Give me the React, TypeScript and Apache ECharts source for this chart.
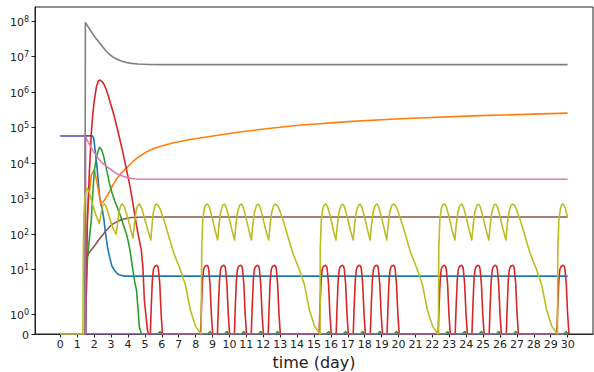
import React, { useEffect, useRef } from "react";
import * as echarts from "echarts";

// ---------- data (day, value) ----------
const X_TICKS = Array.from({ length: 31 }, (_, i) => i);
const Y_TICK_VALUES = [0, 1, 10, 100, 1e3, 1e4, 1e5, 1e6, 1e7, 1e8];
const Y_TICK_LABELS = ["0", "10^0", "10^1", "10^2", "10^3", "10^4", "10^5", "10^6", "10^7", "10^8"];

const blueData: [number, number][] = [
  [0, 5.9e4], [1.9, 5.9e4], [1.97, 5.0e4], [2.05, 2.5e4], [2.13, 1.2e4], [2.22, 4000], [2.31, 1300],
  [2.4, 700], [2.49, 480], [2.58, 250], [2.66, 115], [2.8, 40], [2.9, 24], [3.05, 12.6], [3.2, 9.7],
  [3.35, 7.9], [3.49, 7.1], [3.8, 6.6], [4.08, 6.6], [30, 6.6],
];
const orangeData: [number, number][] = [
  [0, 0], [1.47, 0], [1.52, 60], [1.66, 910], [1.83, 4700], [2.01, 6500], [2.19, 2500], [2.4, 710],
  [2.6, 890], [2.85, 1410], [3.1, 2400], [3.3, 3470], [3.5, 4680], [3.75, 6170], [3.96, 7760],
  [4.3, 1.12e4], [4.67, 1.55e4], [5.1, 2.09e4], [5.56, 2.63e4], [6.1, 3.16e4], [6.63, 3.72e4],
  [7.6, 4.57e4], [8.64, 5.5e4], [9.6, 6.46e4], [10.6, 7.59e4], [12.3, 9.55e4], [14.1, 1.17e5],
  [17, 1.48e5], [20.1, 1.78e5], [24.8, 2.19e5], [30, 2.57e5],
];
const greenData: [number, number][] = [
  [0, 0], [1.45, 0], [1.6, 19], [1.72, 80], [1.83, 250], [1.92, 1500], [2.01, 6300], [2.15, 1.6e4],
  [2.31, 2.8e4], [2.42, 2.5e4], [2.54, 1.7e4], [2.7, 7900], [2.9, 2750], [3.05, 1500], [3.2, 910],
  [3.49, 400], [3.75, 170], [3.96, 83], [4.12, 35], [4.26, 12], [4.4, 4.5], [4.5, 2.7], [4.6, 1.2],
  [4.67, 0.35], [4.78, 0.05], [4.85, 0],
  [5.75, 0], [5.9, 0.12], [6.05, 0], [30, 0],
];
const greenBumpPeaks = [8.85, 9.85, 10.85, 11.85, 12.85, 15.86, 16.87, 17.88, 18.89, 19.88, 22.9, 23.91, 24.9, 25.92, 26.93, 29.92];
const greenBumpShape: [number, number][] = [[-0.15, 0], [0, 0.12], [0.15, 0]];

const redBigData: [number, number][] = [
  [0, 0], [1.5, 0], [1.54, 5], [1.6, 250], [1.72, 6300], [1.83, 7e4], [1.92, 2.5e5], [2.01, 6e5],
  [2.13, 1.4e6], [2.25, 2.1e6], [2.35, 2.2e6], [2.49, 1.95e6], [2.6, 1.6e6], [2.72, 1.15e6],
  [2.84, 7.8e5], [2.96, 4.9e5], [3.08, 3.2e5], [3.2, 2e5], [3.43, 7.1e4], [3.67, 2.3e4],
  [3.96, 5200], [4.12, 2200], [4.26, 910], [4.5, 180], [4.65, 75], [4.79, 35], [4.88, 12],
  [4.97, 1.7], [5.15, 0.2], [5.22, 0],
];
const redPulsePeaks = [5.68, 8.65, 9.65, 10.65, 11.65, 12.65, 15.66, 16.67, 17.68, 18.69, 19.68, 22.7, 23.71, 24.7, 25.72, 26.73, 29.72];
const redPulseShape: [number, number][] = [
  [-0.36, 0], [-0.3, 1.5], [-0.24, 5], [-0.18, 10], [-0.12, 12], [-0.04, 13], [0.02, 13.3], [0.08, 12.5],
  [0.12, 10.5], [0.2, 4], [0.28, 1], [0.36, 0],
];
const purpleData: [number, number][] = [[0, 5.9e4], [1.48, 5.9e4], [1.5, 0], [30, 0]];
const brownData: [number, number][] = [
  [0, 0], [1.47, 0], [1.48, 20], [1.65, 27], [1.8, 35], [2.0, 46], [2.13, 56], [2.3, 72], [2.5, 95],
  [2.7, 125], [2.9, 160], [3.1, 192], [3.3, 220], [3.5, 245], [3.7, 265], [3.95, 283], [4.2, 295],
  [4.6, 302], [5, 305], [30, 305],
];
const pinkData: [number, number][] = [
  [0, 0], [1.46, 0], [1.48, 5.9e4], [1.6, 4.3e4], [1.7, 3.5e4], [1.85, 2.6e4], [2.0, 2e4], [2.15, 1.58e4],
  [2.3, 1.26e4], [2.45, 1.05e4], [2.6, 9100], [2.75, 8000], [2.9, 7100], [3.1, 6100], [3.3, 5200],
  [3.5, 4700], [3.7, 4300], [3.95, 3950], [4.2, 3700], [4.45, 3600], [4.7, 3550], [30, 3550],
];
const grayData: [number, number][] = [
  [0, 0], [1.45, 0], [1.48, 9.1e7], [1.6, 7.5e7], [1.75, 5.8e7], [1.9, 4.5e7], [2.1, 3.3e7],
  [2.3, 2.5e7], [2.5, 1.9e7], [2.7, 1.45e7], [2.9, 1.17e7], [3.1, 9.9e6], [3.35, 8.5e6], [3.6, 7.6e6],
  [3.9, 6.9e6], [4.2, 6.5e6], [4.6, 6.2e6], [5.2, 6.05e6], [6, 6.0e6], [30, 6.0e6],
];
const oliveData: [number, number][] = [
  [0, 0], [1.33, 0], [1.36, 40], [1.4, 400], [1.47, 1300], [1.58, 2000], [1.7, 1600], [1.9, 700], [2.1, 350],
  [2.3, 200], [2.38, 320], [2.48, 600], [2.6, 720], [2.72, 580], [2.9, 300], [3.1, 150], [3.3, 100],
  [3.38, 200], [3.48, 450], [3.58, 660], [3.68, 720], [3.8, 560], [4.0, 280], [4.15, 140], [4.3, 78],
  [4.37, 180], [4.47, 420], [4.57, 650], [4.68, 710], [4.8, 560], [5.0, 260], [5.2, 120], [5.35, 69],
  [5.42, 180], [5.5, 420], [5.6, 650], [5.68, 710],
  [5.8, 640], [5.92, 480], [6.15, 230], [6.39, 95], [6.7, 30], [7.1, 9.8], [7.4, 3.7], [7.69, 1.2],
  [7.99, 0.4], [8.28, 0.04], [8.33, 0],
  [8.36, 40], [8.42, 250], [8.52, 550], [8.62, 690], [8.7, 710], [8.8, 600], [8.95, 330], [9.15, 130],
  [9.3, 69], [9.38, 180], [9.48, 420], [9.6, 650], [9.7, 710], [9.8, 600], [9.95, 330], [10.15, 130],
  [10.3, 69], [10.38, 180], [10.48, 420], [10.6, 650], [10.7, 710], [10.8, 600], [10.95, 330], [11.15, 130],
  [11.3, 69], [11.38, 180], [11.48, 420], [11.6, 650], [11.7, 710], [11.8, 600], [11.95, 330], [12.15, 130],
  [12.32, 69], [12.4, 180], [12.5, 420], [12.62, 650], [12.72, 710],
  [12.84, 640], [12.96, 480], [13.19, 230], [13.43, 95], [13.74, 30], [14.14, 9.8], [14.44, 3.7],
  [14.73, 1.2], [15.03, 0.4], [15.32, 0.04], [15.36, 0],
  [15.37, 40], [15.43, 250], [15.53, 550], [15.63, 690], [15.7, 710], [15.8, 600], [15.95, 330], [16.15, 130],
  [16.3, 69], [16.38, 180], [16.48, 420], [16.6, 650], [16.7, 710], [16.8, 600], [16.95, 330], [17.15, 130],
  [17.32, 69], [17.4, 180], [17.5, 420], [17.62, 650], [17.72, 710], [17.82, 600], [17.97, 330], [18.17, 130],
  [18.32, 69], [18.4, 180], [18.5, 420], [18.62, 650], [18.72, 710], [18.82, 600], [18.97, 330], [19.17, 130],
  [19.3, 69], [19.38, 180], [19.48, 420], [19.6, 650], [19.7, 710],
  [19.82, 640], [19.94, 480], [20.17, 230], [20.41, 95], [20.72, 30], [21.12, 9.8], [21.42, 3.7],
  [21.71, 1.2], [22.01, 0.4], [22.3, 0.04], [22.36, 0],
  [22.38, 40], [22.44, 250], [22.54, 550], [22.64, 690], [22.72, 710], [22.82, 600], [22.97, 330], [23.17, 130],
  [23.33, 69], [23.41, 180], [23.51, 420], [23.63, 650], [23.73, 710], [23.83, 600], [23.98, 330], [24.18, 130],
  [24.33, 69], [24.41, 180], [24.51, 420], [24.63, 650], [24.73, 710], [24.83, 600], [24.98, 330], [25.18, 130],
  [25.34, 69], [25.42, 180], [25.52, 420], [25.64, 650], [25.74, 710], [25.84, 600], [25.99, 330], [26.19, 130],
  [26.35, 69], [26.43, 180], [26.53, 420], [26.65, 650], [26.75, 710],
  [26.87, 640], [26.99, 480], [27.22, 230], [27.46, 95], [27.77, 30], [28.17, 9.8], [28.47, 3.7],
  [28.76, 1.2], [29.06, 0.4], [29.35, 0.04], [29.4, 0],
  [29.42, 40], [29.48, 250], [29.58, 550], [29.66, 690], [29.73, 710], [29.83, 600], [30, 300],
];

// ---------- symlog scale (matplotlib: linthresh=2, linscale=1, base 10) ----------
const LINTHRESH = 2;
const LINSCALE_ADJ = 1 / (1 - 1 / 10);
function symlog(v: number): number {
  const a = Math.abs(v);
  if (a <= LINTHRESH) return v * LINSCALE_ADJ;
  return Math.sign(v) * LINTHRESH * (LINSCALE_ADJ + Math.log10(a / LINTHRESH));
}
const Y_MAX = 18.42;

function withPulses(base: [number, number][], peaks: number[], shape: [number, number][]): [number, number][] {
  const pts: [number, number][] = base.slice();
  peaks.forEach((p) => shape.forEach(([dx, v]) => pts.push([p + dx, v])));
  pts.sort((a, b) => a[0] - b[0]);
  return pts;
}

const COLORS = {
  blue: "#1f77b4", orange: "#ff7f0e", green: "#2ca02c", red: "#d62728", purple: "#9467bd",
  brown: "#8c564b", pink: "#e377c2", gray: "#7f7f7f", olive: "#bcbd22",
};

export default function App() {
  const ref = useRef<HTMLDivElement>(null);
  useEffect(() => {
    if (!ref.current) return;
    const chart = echarts.init(ref.current, null, { renderer: "svg" });
    const yTickT = Y_TICK_VALUES.map(symlog);
    const mk = (name: string, color: string, data: [number, number][]) => ({
      name,
      type: "line",
      showSymbol: false,
      symbol: "none",
      silent: true,
      lineStyle: { width: 1.6, color, join: "round" },
      itemStyle: { color },
      data: data.map(([x, v]) => [x, symlog(v)]),
    });
    const font = "DejaVu Sans";
    chart.setOption({
      animation: false,
      grid: {
        left: 35, right: 1, top: 7, bottom: 38, containLabel: false, outerBoundsMode: "none",
        show: true, borderColor: "#222", borderWidth: 1, backgroundColor: "transparent",
      },
      xAxis: {
        type: "value", min: -1.5, max: 31.5,
        splitLine: { show: false },
        axisLine: { lineStyle: { color: "#222", width: 1 } },
        axisTick: { customValues: X_TICKS, length: 3.5, lineStyle: { color: "#222" } },
        axisLabel: { customValues: X_TICKS, fontSize: 11, color: "#222", margin: 5, fontFamily: font },
        name: "time (day)", nameLocation: "middle", nameGap: 19,
        nameTextStyle: { fontSize: 16, color: "#222", fontFamily: font },
      },
      yAxis: {
        type: "value", min: 0, max: Y_MAX,
        splitLine: { show: false },
        axisLine: { onZero: false, lineStyle: { color: "#222", width: 1 } },
        axisTick: { customValues: yTickT, length: 3.5, lineStyle: { color: "#222" } },
        axisLabel: {
          customValues: yTickT, margin: 6,
          formatter: (val: number) => {
            const i = yTickT.findIndex((t) => Math.abs(t - val) < 1e-6);
            if (i < 0) return "";
            const lab = Y_TICK_LABELS[i];
            if (lab.indexOf("^") < 0) return `{b|${lab}}`;
            const [base, exp] = lab.split("^");
            return `{b|${base}}{s|${exp}}`;
          },
          rich: {
            b: { fontSize: 11, color: "#222", fontFamily: font, lineHeight: 14, padding: [2, 0, 0, 0] },
            s: { fontSize: 8, color: "#222", fontFamily: font, lineHeight: 8, verticalAlign: "top", padding: [1, 0, 0, 0] },
          },
        },
      },
      series: [
        mk("blue", COLORS.blue, blueData),
        mk("orange", COLORS.orange, orangeData),
        mk("green", COLORS.green, withPulses(greenData, greenBumpPeaks, greenBumpShape)),
        mk("red", COLORS.red, withPulses(redBigData, redPulsePeaks, redPulseShape)),
        mk("purple", COLORS.purple, purpleData),
        mk("brown", COLORS.brown, brownData),
        mk("pink", COLORS.pink, pinkData),
        mk("gray", COLORS.gray, grayData),
        mk("olive", COLORS.olive, oliveData),
      ],
    });
    return () => chart.dispose();
  }, []);
  return <div ref={ref} style={{ position: "absolute", left: 0, top: 0, width: 594, height: 372 }} />;
}
